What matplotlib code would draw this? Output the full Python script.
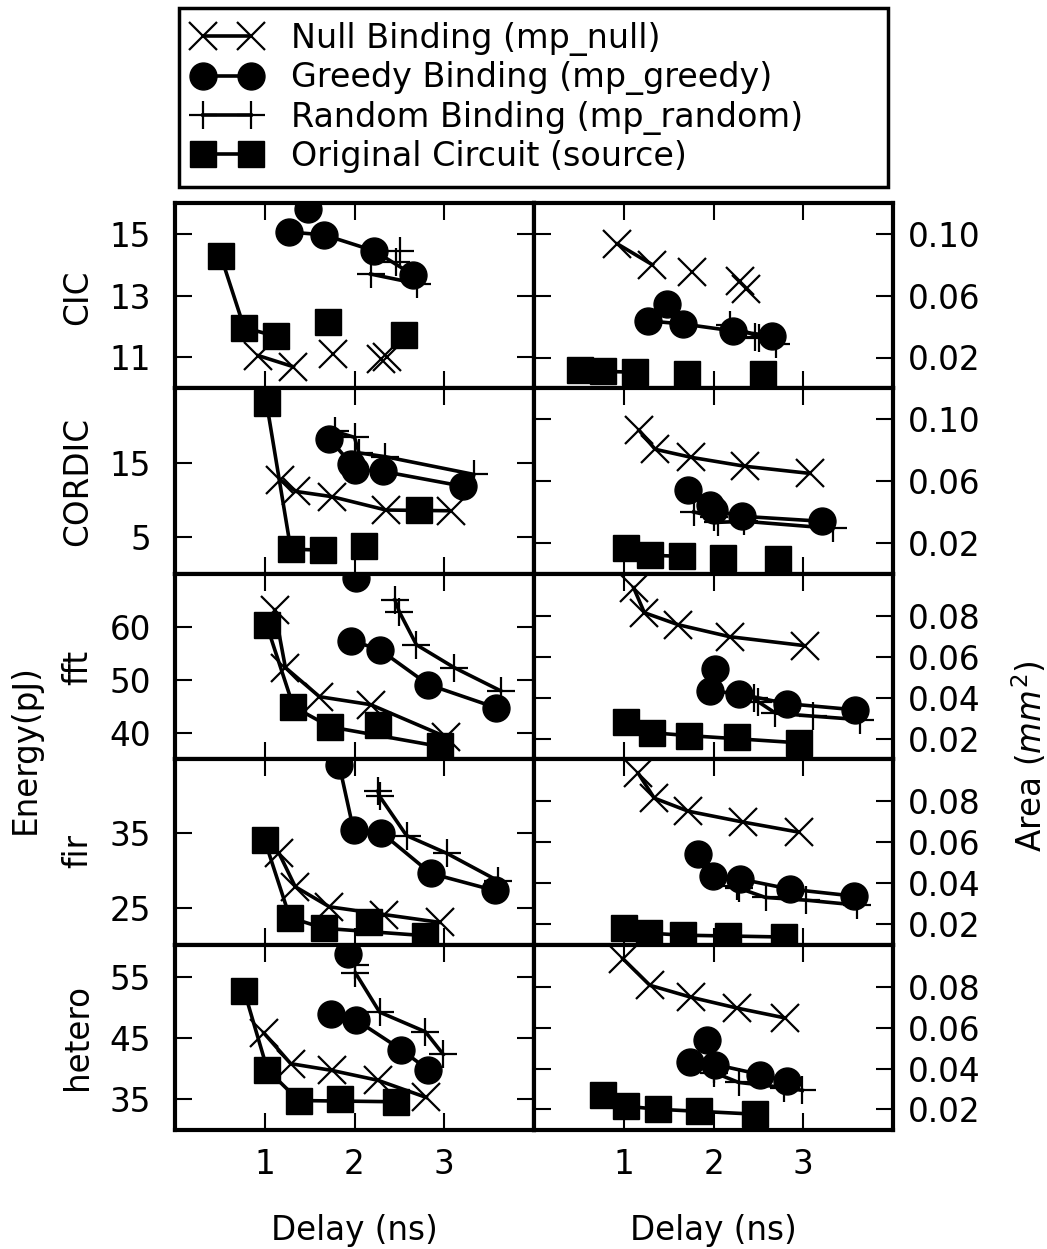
import matplotlib
matplotlib.use('Agg')
import matplotlib.pyplot as plt
from matplotlib.ticker import FixedLocator, FormatStrFormatter
from matplotlib.lines import Line2D

# ---------------- data ----------------
benchmarks = ['CIC', 'CORDIC', 'fft', 'fir', 'hetero']
methods = ['Null Binding (mp_null)', 'Greedy Binding (mp_greedy)',
           'Random Binding (mp_random)', 'Original Circuit (source)']
# order inside each benchmark list: null, greedy, random, source

cic_delay = [[0.93, 1.32, 1.76, 2.30, 2.36],
             [1.27, 1.48, 1.66, 2.22, 2.65],
             [2.18, 2.46, 2.51, 2.70],
             [0.51, 0.77, 1.13, 1.70, 2.55]]
cic_energy = [[11.06, 10.70, 11.10, 10.94, 11.03],
              [15.06, 15.80, 14.97, 14.45, 13.68],
              [13.70, 14.10, 14.45, 13.39],
              [14.29, 11.97, 11.68, 12.16, 11.74]]
cic_area = [[0.0935, 0.0800, 0.0754, 0.0696, 0.0644],
            [0.0437, 0.0547, 0.0417, 0.0372, 0.0340],
            [0.0410, 0.0335, 0.0325, 0.0287],
            [0.0120, 0.0110, 0.0105, 0.0095, 0.0093]]

cordic_delay = [[1.17, 1.35, 1.75, 2.35, 3.07],
                [1.72, 1.96, 2.00, 2.32, 3.21],
                [1.78, 2.00, 2.05, 2.34, 3.33],
                [1.02, 1.29, 1.65, 2.11, 2.72]]
cordic_energy = [[12.7, 11.1, 10.4, 8.6, 8.5],
                 [18.2, 14.87, 14.06, 13.8, 11.8],
                 [19.2, 18.4, 16.3, 15.8, 13.4],
                 [23.05, 3.32, 3.19, 3.72, 8.56]]
cordic_area = [[0.0929, 0.0806, 0.0754, 0.0696, 0.0650],
               [0.0540, 0.0443, 0.0410, 0.0372, 0.0340],
               [0.0400, 0.0370, 0.0333, 0.0340, 0.0294],
               [0.0165, 0.0120, 0.0113, 0.0103, 0.0097]]

fft_delay = [[1.11, 1.23, 1.61, 2.18, 3.02],
             [2.02, 1.96, 2.28, 2.82, 3.58],
             [2.45, 2.50, 2.69, 3.11, 3.63],
             [1.02, 1.32, 1.73, 2.26, 2.95]]
fft_energy = [[63.2, 52.3, 46.8, 45.3, 39.2],
              [69.2, 57.4, 55.7, 49.1, 44.7],
              [65.1, 62.8, 56.6, 52.3, 47.9],
              [60.4, 44.9, 41.1, 41.5, 37.4]]
fft_area = [[0.0937, 0.0815, 0.0756, 0.0698, 0.0654],
            [0.0541, 0.0434, 0.0419, 0.0371, 0.0341],
            [0.0400, 0.0380, 0.0325, 0.0310, 0.0293],
            [0.0283, 0.0229, 0.0215, 0.0210, 0.0180]]

fir_delay = [[1.16, 1.34, 1.72, 2.33, 2.95],
             [1.83, 1.99, 2.30, 2.85, 3.56],
             [2.26, 2.28, 2.58, 3.03, 3.60],
             [1.00, 1.28, 1.66, 2.16, 2.79]]
fir_energy = [[32.3, 27.8, 25.1, 24.05, 23.0],
              [44.2, 35.4, 35.1, 29.6, 27.3],
              [40.7, 40.0, 34.7, 32.3, 28.6],
              [34.05, 23.65, 22.2, 23.0, 21.2]]
fir_area = [[0.0937, 0.0815, 0.0751, 0.0698, 0.0649],
            [0.0541, 0.0434, 0.0420, 0.0371, 0.0337],
            [0.0385, 0.0376, 0.0330, 0.0317, 0.0293],
            [0.0180, 0.0156, 0.0146, 0.0141, 0.0137]]

hetero_delay = [[0.99, 1.29, 1.75, 2.26, 2.80],
                [1.93, 1.74, 2.02, 2.52, 2.82],
                [2.01, 2.01, 2.28, 2.79, 2.99],
                [0.77, 1.03, 1.38, 1.84, 2.46]]
hetero_energy = [[45.8, 40.8, 39.7, 38.1, 35.3],
                 [58.7, 48.9, 47.9, 43.1, 39.8],
                 [56.9, 55.6, 49.2, 46.0, 42.3],
                 [52.7, 39.8, 34.8, 35.0, 34.6]]
hetero_area = [[0.0941, 0.0810, 0.0751, 0.0698, 0.0649],
               [0.0541, 0.0434, 0.0420, 0.0371, 0.0337],
               [0.0400, 0.0380, 0.0332, 0.0307, 0.0293],
               [0.0268, 0.0215, 0.0200, 0.0190, 0.0176]]

energy_ylim = [(10, 16), (0, 25), (35, 70), (20, 45), (30, 60.2)]
energy_ticks = [[11, 13, 15], [5, 15], [40, 50, 60], [25, 35], [35, 45, 55]]
area_ylim = [(0, 0.12), (0, 0.12), (0.01, 0.1005), (0.01, 0.1005), (0.0098, 0.101)]
area_ticks = [[0.02, 0.06, 0.10], [0.02, 0.06, 0.10], [0.02, 0.04, 0.06, 0.08],
              [0.02, 0.04, 0.06, 0.08], [0.02, 0.04, 0.06, 0.08]]
x_ticks = [1, 2, 3]

all_delay = [cic_delay, cordic_delay, fft_delay, fir_delay, hetero_delay]
all_energy = [cic_energy, cordic_energy, fft_energy, fir_energy, hetero_energy]
all_area = [cic_area, cordic_area, fft_area, fir_area, hetero_area]

# ---------------- style ----------------
markers = ['x', 'o', '+', 's']
MS = 20
LW = 2.6
FS = 23.5
LFS = 24


def mstyle(m):
    if m in ('x', '+'):
        return dict(marker=m, markersize=MS, markeredgewidth=1.6,
                    color='black', markeredgecolor='black')
    return dict(marker=m, markersize=MS * 0.97, markeredgewidth=1.0,
                color='black', markerfacecolor='black', markeredgecolor='black')


def pareto(delay, energy):
    order = sorted(range(len(delay)), key=lambda i: (delay[i], energy[i]))
    best = float('inf')
    keep = []
    for i in order:
        if energy[i] < best:
            keep.append(i)
            best = energy[i]
    return keep


W, H = 1047, 1249
fig = plt.figure(figsize=(W / 100, H / 100), dpi=100)
axes = fig.subplots(5, 2)
fig.subplots_adjust(left=175 / W, right=893 / W, top=1 - 203 / H,
                    bottom=1 - 1130 / H, hspace=0, wspace=0)

for r in range(5):
    for c in range(2):
        ax = axes[r][c]
        vals = all_energy[r] if c == 0 else all_area[r]
        for k in range(4):
            d = all_delay[r][k]
            e = all_energy[r][k]
            v = vals[k]
            front = pareto(d, e)
            ax.plot([d[i] for i in front], [v[i] for i in front], '-',
                    color='black', linewidth=LW, zorder=2)
            ax.plot(d, v, linestyle='none', zorder=3, **mstyle(markers[k]))
        ax.set_xlim(0, 4)
        if c == 0:
            ax.set_ylim(*energy_ylim[r])
            ax.yaxis.set_major_locator(FixedLocator(energy_ticks[r]))
            ax.tick_params(axis='y', labelleft=True, labelright=False, pad=17)
        else:
            ax.set_ylim(*area_ylim[r])
            ax.yaxis.set_major_locator(FixedLocator(area_ticks[r]))
            ax.yaxis.set_major_formatter(FormatStrFormatter('%.2f'))
            ax.tick_params(axis='y', labelleft=False, labelright=True, pad=11)
        ax.xaxis.set_major_locator(FixedLocator(x_ticks))
        ax.tick_params(axis='both', which='both', direction='in', length=12,
                       width=1.5, top=True, right=True, left=True, bottom=True,
                       labelsize=FS)
        ax.minorticks_off()
        if r < 4:
            ax.tick_params(axis='x', labelbottom=False)
        else:
            ax.tick_params(axis='x', labelbottom=True, pad=13)
            ax.set_xlabel('Delay (ns)', fontsize=FS, labelpad=24)
        for s in ax.spines.values():
            s.set_linewidth(3)

# row labels
row_y = [297, 481, 667, 851, 1037]
for name, yy in zip(benchmarks, row_y):
    fig.text(78 / W, 1 - yy / H, name, rotation=90, ha='center', va='center',
             fontsize=FS)
fig.text(25 / W, 1 - 749 / H, 'Energy(pJ)', rotation=90, ha='center',
         va='center', fontsize=FS)
fig.text(1030 / W, 1 - 756 / H, 'Area ($mm^2$)', rotation=90, ha='center',
         va='center', fontsize=FS)

# legend
handles = []
for k in range(4):
    handles.append(Line2D([0, 1], [0, 0], linestyle='-', linewidth=LW,
                          **mstyle(markers[k])))
leg = fig.legend(handles, methods, loc='upper left',
                 bbox_to_anchor=(179 / W, 1 - 185 / H, 709 / W, 177 / H),
                 bbox_transform=fig.transFigure, mode='expand',
                 borderaxespad=0, fontsize=LFS, numpoints=2, handlelength=2.05,
                 handletextpad=0.9, labelspacing=0.16, borderpad=0.42,
                 fancybox=False, framealpha=1, edgecolor='black')
leg.get_frame().set_linewidth(2.5)

fig.savefig('out.png', dpi=100)
